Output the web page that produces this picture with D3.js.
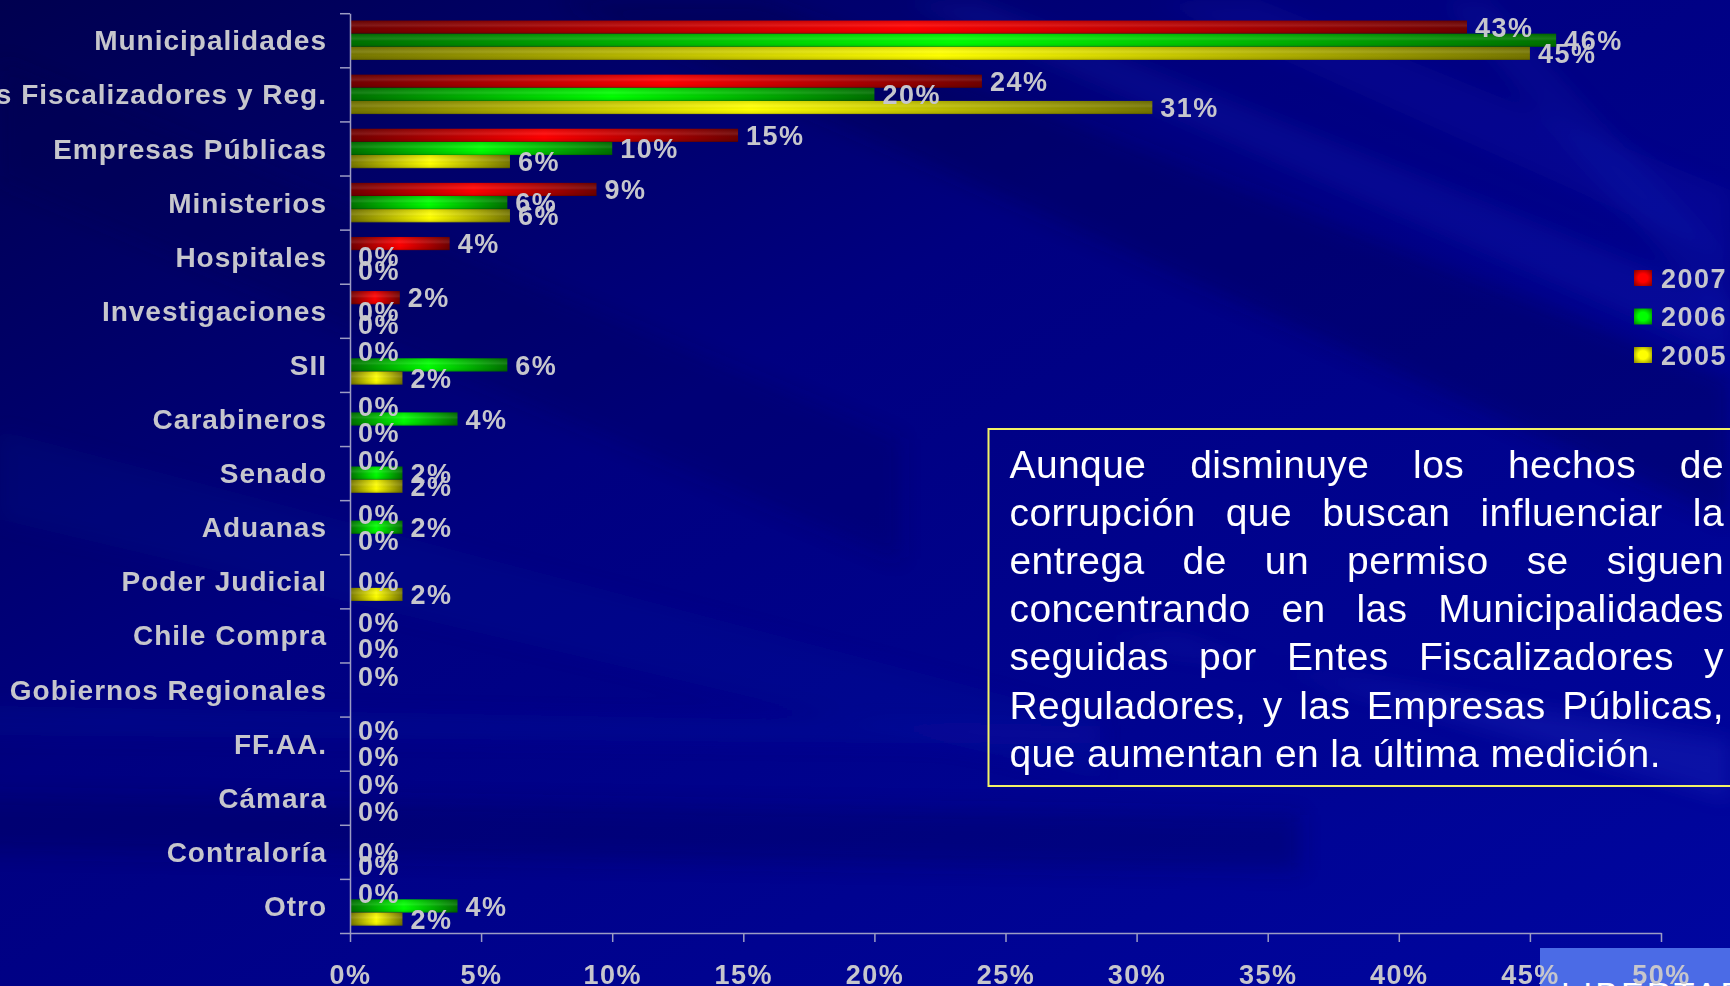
<!DOCTYPE html>
<html>
<head>
<meta charset="utf-8">
<script src="https://cdn.jsdelivr.net/npm/d3@7"></script>
<style>
  html, body { margin: 0; padding: 0; background: #000080; overflow: hidden; }
  svg { display: block; font-family: "Liberation Sans", Arial, sans-serif; }
</style>
</head>
<body>
<svg id="chart" width="1730" height="986"></svg>
<script>
// ---- data ----
const categories = ["Municipalidades", "Entes Fiscalizadores y Reg.", "Empresas Públicas", "Ministerios",
  "Hospitales", "Investigaciones", "SII", "Carabineros", "Senado", "Aduanas", "Poder Judicial",
  "Chile Compra", "Gobiernos Regionales", "FF.AA.", "Cámara", "Contraloría", "Otro"];
const series = ["2007", "2006", "2005"];
// null = no bar / no label in the original
const values2007 = [42.6, 24.1, 14.8, 9.4, 3.8, 1.9, 0, 0, 0, 0, null, 0, 0, 0, 0, null, 0];
const values2006 = [46.0, 20.0, 10.0, 6.0, 0, 0, 6.0, 4.1, 2.0, 2.0, 0, null, null, null, null, 0, 4.1];
const values2005 = [45.0, 30.6, 6.1, 6.1, 0, 0, 2.0, 0, 2.0, 0, 2.0, 0, null, 0, 0, 0, 2.0];
const xTicks = [0, 5, 10, 15, 20, 25, 30, 35, 40, 45, 50];
const noteLines = [
  "Aunque disminuye los hechos de",
  "corrupción que buscan influenciar la",
  "entrega de un permiso se siguen",
  "concentrando en las Municipalidades",
  "seguidas por Entes Fiscalizadores y",
  "Reguladores, y las Empresas Públicas,",
  "que aumentan en la última medición."
];

const seriesValues = { "2007": values2007, "2006": values2006, "2005": values2005 };
const seriesColors = {
  "2007": { dark: "#700000", bright: "#ff0000" },
  "2006": { dark: "#007000", bright: "#00ff00" },
  "2005": { dark: "#767600", bright: "#ffff00" }
};

const W = 1730, H = 986;
const grey = "#c6c6cc";
const svg = d3.select("#chart");
const defs = svg.append("defs");

// background
const bg = defs.append("linearGradient").attr("id", "bg")
  .attr("x1", 0).attr("y1", 0).attr("x2", 1).attr("y2", 1);
bg.append("stop").attr("offset", 0).attr("stop-color", "#000050");
bg.append("stop").attr("offset", 0.4).attr("stop-color", "#000080");
bg.append("stop").attr("offset", 1).attr("stop-color", "#0006a0");
svg.append("rect").attr("width", W).attr("height", H).attr("fill", "url(#bg)");

defs.append("filter").attr("id", "soft").attr("x", "-20%").attr("y", "-20%").attr("width", "140%").attr("height", "140%")
  .append("feGaussianBlur").attr("stdDeviation", 10);

const streaks = [
  { pts: [[560, 0], [760, 0], [1730, 380], [1730, 520]], fill: "#000040", op: 0.25 },
  { pts: [[900, 0], [980, 0], [1730, 300], [1730, 360]], fill: "#3a50ff", op: 0.10 },
  { pts: [[1150, 0], [1260, 0], [1730, 190], [1730, 260]], fill: "#3a50ff", op: 0.08 },
  { pts: [[1440, 0], [1490, 0], [1730, 260], [1730, 330]], fill: "#3a50ff", op: 0.07 },
  { pts: [[0, 60], [0, 180], [900, 560], [900, 440]], fill: "#000040", op: 0.18 },
  { pts: [[0, 430], [0, 520], [1100, 780], [1100, 720]], fill: "#2030c0", op: 0.08 },
  { pts: [[1100, 640], [1180, 640], [1730, 800], [1730, 740]], fill: "#5070ff", op: 0.12 },
  { pts: [[-50, 795], [1300, 815], [1300, 870], [-50, 850]], fill: "#000040", op: 0.22 },
  { pts: [[-50, 705], [1100, 725], [1100, 745], [-50, 735]], fill: "#2030d0", op: 0.10 }
];
svg.append("g").attr("filter", "url(#soft)")
  .selectAll("polygon").data(streaks).join("polygon")
  .attr("points", d => d.pts.map(p => p.join(",")).join(" "))
  .attr("fill", d => d.fill).attr("opacity", d => d.op);

// bar gradients
series.forEach(s => {
  const c = seriesColors[s];
  const g = defs.append("linearGradient").attr("id", "g" + s)
    .attr("x1", 0).attr("y1", 0).attr("x2", 1).attr("y2", 0);
  g.append("stop").attr("offset", 0).attr("stop-color", c.dark);
  g.append("stop").attr("offset", 0.5).attr("stop-color", c.bright);
  g.append("stop").attr("offset", 1).attr("stop-color", c.dark);
  const r = defs.append("radialGradient").attr("id", "r" + s).attr("r", 0.75);
  r.append("stop").attr("offset", 0).attr("stop-color", c.bright);
  r.append("stop").attr("offset", 0.35).attr("stop-color", c.bright);
  r.append("stop").attr("offset", 1).attr("stop-color", c.dark);
});
const shade = defs.append("linearGradient").attr("id", "shade")
  .attr("x1", 0).attr("y1", 0).attr("x2", 0).attr("y2", 1);
shade.append("stop").attr("offset", 0).attr("stop-color", "#000").attr("stop-opacity", 0.12);
shade.append("stop").attr("offset", 0.4).attr("stop-color", "#fff").attr("stop-opacity", 0.10);
shade.append("stop").attr("offset", 0.65).attr("stop-color", "#000").attr("stop-opacity", 0);
shade.append("stop").attr("offset", 0.88).attr("stop-color", "#000").attr("stop-opacity", 0.08);
shade.append("stop").attr("offset", 1).attr("stop-color", "#000").attr("stop-opacity", 0.3);

// scales
const x = d3.scaleLinear().domain([0, 50]).range([350, 1661]);
const y0 = d3.scaleBand().domain(categories).range([13.2, 933]);
const y1 = d3.scaleBand().domain(series).range([0, y0.bandwidth()]).paddingOuter(0.56);
const yEdges = d3.scaleLinear().domain([0, categories.length]).range([13.2, 933]);

// note box
svg.append("rect").attr("x", 988.5).attr("y", 429).attr("width", 800).attr("height", 357)
  .attr("fill", "none").attr("stroke", "#f2f266").attr("stroke-width", 2);

const noteG = svg.append("g").attr("fill", "#ffffff").attr("font-size", 39)
  .style("letter-spacing", "0.4px");
const noteLeft = 1009.5, noteRight = 1724;
noteLines.forEach((line, i) => {
  const yl = 478 + i * 48.1;
  const words = line.split(" ");
  if (i === noteLines.length - 1) {
    noteG.append("text").attr("x", noteLeft).attr("y", yl).text(line);
    return;
  }
  const nodes = words.map(w => noteG.append("text").attr("y", yl).text(w));
  const widths = nodes.map(n => n.node().getComputedTextLength());
  const gap = (noteRight - noteLeft - d3.sum(widths)) / (words.length - 1);
  let cx = noteLeft;
  nodes.forEach((n, k) => { n.attr("x", cx); cx += widths[k] + gap; });
});

// bars
const rows = [];
categories.forEach((cat, i) => {
  series.forEach(s => {
    const v = seriesValues[s][i];
    if (v !== null) rows.push({ cat, s, v });
  });
});
const barsG = svg.append("g");
const shown = rows.filter(d => d.v > 0);
barsG.selectAll("rect.bar").data(shown).join("rect").attr("class", "bar")
  .attr("x", x(0)).attr("y", d => y0(d.cat) + y1(d.s))
  .attr("width", d => x(d.v) - x(0)).attr("height", y1.bandwidth())
  .attr("fill", d => "url(#g" + d.s + ")");
barsG.selectAll("rect.shade").data(shown).join("rect").attr("class", "shade")
  .attr("x", x(0)).attr("y", d => y0(d.cat) + y1(d.s))
  .attr("width", d => x(d.v) - x(0)).attr("height", y1.bandwidth())
  .attr("fill", "url(#shade)");

// value labels
svg.append("g").attr("fill", grey).attr("font-size", 27).attr("font-weight", "bold")
  .style("letter-spacing", "1.5px")
  .selectAll("text").data(rows).join("text")
  .attr("x", d => x(d.v) + 8)
  .attr("y", d => y0(d.cat) + y1(d.s) + y1.bandwidth() / 2)
  .attr("dy", "0.36em")
  .text(d => Math.round(d.v) + "%");

// y axis
const yAxis = svg.append("g").attr("transform", `translate(${x(0)},0)`)
  .call(d3.axisLeft(yEdges).tickValues(d3.range(categories.length + 1)).tickSize(10).tickSizeOuter(0).tickFormat(""));
yAxis.selectAll("path,line").attr("stroke", "#9c9cc4").attr("stroke-width", 1.5);

svg.append("g").attr("fill", grey).attr("font-size", 28).attr("font-weight", "bold")
  .style("letter-spacing", "1px").attr("text-anchor", "end")
  .selectAll("text").data(categories).join("text")
  .attr("x", 327).attr("y", d => y0(d) + y0.bandwidth() / 2).attr("dy", "0.36em")
  .text(d => d);

// legend
const legend = svg.append("g").attr("transform", "translate(1634,270)");
series.forEach((s, i) => {
  const g = legend.append("g").attr("transform", `translate(0,${i * 38.5})`);
  g.append("rect").attr("width", 18).attr("height", 16).attr("fill", "url(#r" + s + ")");
  g.append("text").attr("x", 27).attr("y", 8).attr("dy", "0.36em")
    .attr("fill", grey).attr("font-size", 27).attr("font-weight", "bold")
    .style("letter-spacing", "1.5px").text(s);
});

// footer logo box (cut off)
svg.append("rect").attr("x", 1540).attr("y", 948).attr("width", 200).attr("height", 50).attr("fill", "#4b6be6");
svg.append("text").attr("x", 1561).attr("y", 1006).attr("fill", "#ffffff").attr("font-size", 34)
  .style("letter-spacing", "3px").text("LIBERTAD Y DESARROLLO");

// x axis
const xAxis = svg.append("g").attr("transform", "translate(0,933)")
  .call(d3.axisBottom(x).tickValues(xTicks).tickSize(9).tickSizeOuter(0).tickFormat(d => d + "%"));
xAxis.selectAll("path,line").attr("stroke", "#9c9cc4").attr("stroke-width", 1.5);
xAxis.selectAll("text").attr("fill", grey).attr("font-size", 27).attr("font-weight", "bold")
  .attr("font-family", "Liberation Sans, Arial, sans-serif")
  .style("letter-spacing", "1.5px").attr("y", 51).attr("dy", 0);
</script>
</body>
</html>
